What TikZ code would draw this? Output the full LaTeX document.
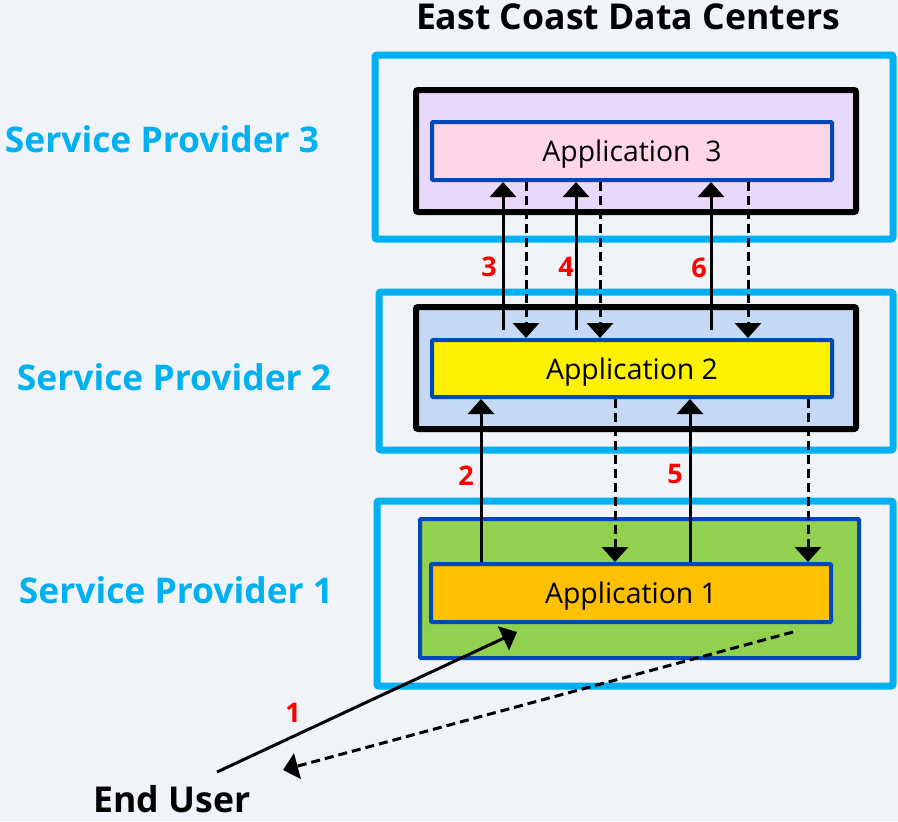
\documentclass[tikz,border=0pt]{standalone}
\usepackage{fontspec}
\setmainfont{Open Sans}
\usetikzlibrary{arrows.meta}
\definecolor{bgcol}{HTML}{F0F4F8}
\definecolor{spcyan}{HTML}{00B0F0}
\definecolor{appblue}{HTML}{0047BB}
\definecolor{lav}{HTML}{E8D9FC}
\definecolor{lblue}{HTML}{C5D9F5}
\definecolor{pinkapp}{HTML}{FFD6E8}
\definecolor{orangeapp}{HTML}{FFC000}
\definecolor{greenhost}{HTML}{92D050}
\tikzset{
  spbox/.style={draw=spcyan, line width=3.5pt, rounded corners=1pt},
  hostbox/.style={draw=black, line width=3pt, rounded corners=1pt},
  appbox/.style={draw=appblue, line width=2pt, rounded corners=0.5pt, text depth=0pt, font=\fontsize{14.2}{17}\selectfont},
  splabel/.style={text=spcyan, font=\bfseries\fontsize{17.7}{21}\selectfont},
  steplabel/.style={text=red, font=\bfseries\fontsize{13.5}{16}\selectfont},
  reqarrow/.style={line width=1.5pt, -{Triangle[width=13pt,length=7.5pt]}},
  resparrow/.style={reqarrow, dash pattern=on 4.5pt off 2.5pt},
}
\begin{document}
\begin{tikzpicture}[x=0.5pt, y=-0.5pt]
  \useasboundingbox[fill=bgcol] (0,0) rectangle (898,821);

  % provider boxes
  \node[spbox, minimum width=259pt, minimum height=92pt] (sp3) at (634,147) {};
  \node[spbox, minimum width=257pt, minimum height=79pt] (sp2) at (636,371) {};
  \node[spbox, minimum width=258pt, minimum height=92.5pt] (sp1) at (635,593.5) {};

  % hosts
  \node[hostbox, fill=lav, minimum width=220pt, minimum height=61pt] (host3) at (636,151) {};
  \node[hostbox, fill=lblue, minimum width=220pt, minimum height=61pt] (host2) at (636,368) {};
  \node[appbox, fill=greenhost, minimum width=219.5pt, minimum height=69.5pt] (host1) at (639.5,588.5) {};

  % applications
  \node[appbox, fill=pinkapp, minimum width=200pt, minimum height=29pt] (app3) at (632,151) {Application\ \ 3};
  \node[appbox, fill=yellow, minimum width=200pt, minimum height=28.5pt] (app2) at (632,368.5) {Application 2};
  \node[appbox, fill=orangeapp, minimum width=200pt, minimum height=29pt] (app1) at (631,593) {Application 1};

  % labels
  \node[font=\bfseries\fontsize{17.8}{21}\selectfont] (title) at (628,17) {East Coast Data Centers};
  \node[splabel] (lab3) at (162,139) {Service Provider 3};
  \node[splabel] (lab2) at (174,377) {Service Provider 2};
  \node[splabel] (lab1) at (176,590) {Service Provider 1};
  \node[font=\bfseries\fontsize{17.8}{21}\selectfont] (user) at (172,799) {End User};

  % app2 <-> app3
  \foreach \x in {503,576,711}
    \draw[reqarrow] ([yshift=4pt]app2.north -| \x,0) -- (app3.south -| \x,0);
  \foreach \x in {526,600,748}
    \draw[resparrow] (app3.south -| \x,0) -- (app2.north -| \x,0);

  % app1 <-> app2
  \foreach \x in {481,690}
    \draw[reqarrow] (app1.north -| \x,0) -- (app2.south -| \x,0);
  \foreach \x in {615,808}
    \draw[resparrow] (app2.south -| \x,0) -- (app1.north -| \x,0);

  % end user
  \coordinate (userout) at (217,772);
  \coordinate (userin) at (283,770);
  \coordinate (app1in) at (517,632);
  \coordinate (app1out) at (793,632);
  \draw[reqarrow] (userout) -- (app1in);
  \draw[resparrow] (app1out) -- (userin);

  % step numbers
  \node[steplabel] (n1) at (293,713) {1};
  \node[steplabel] (n2) at (466,476) {2};
  \node[steplabel] (n3) at (489,267) {3};
  \node[steplabel] (n4) at (566,267) {4};
  \node[steplabel] (n5) at (675,474) {5};
  \node[steplabel] (n6) at (699,268) {6};
\end{tikzpicture}
\end{document}
